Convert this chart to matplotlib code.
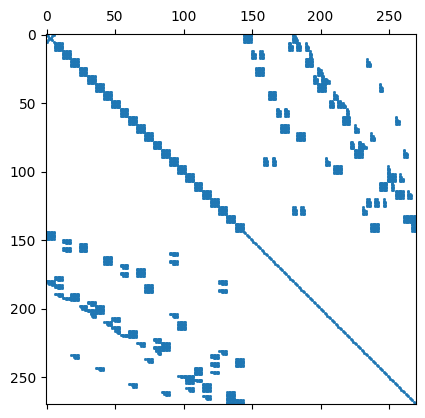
import numpy as np
import matplotlib
matplotlib.use("Agg")
import matplotlib.pyplot as plt

N = 270
DIAG_BLOCK = 6
N_DIAG_BLOCKS = 24
# share of the width that each of the 6 rows of an L block fills
L_PROFILE = [0.2, 0.3, 0.6, 0.7, 1.0, 1.0]

# upper right blocks, mirrored to the lower left
# F = full block, N = nearly full, L = thin on top with a wide bottom row
block_rows = [0, 0, 6, 6, 6, 12, 12, 12, 18, 18, 24, 24, 30, 30, 36, 36,
              42, 42, 48, 48, 54, 54, 54, 60, 60, 66, 66, 72, 72, 78, 78,
              84, 84, 90, 90, 90, 96, 96, 102, 102, 108, 108, 114, 114,
              120, 120, 120, 126, 126, 126, 132, 138, 138]
block_cols = [144, 180, 177, 183, 189, 150, 156, 192, 234, 189, 153, 198, 195, 201, 198, 243,
              162, 210, 207, 213, 168, 174, 219, 216, 255, 171, 225, 183, 237, 222, 228,
              225, 261, 159, 165, 204, 210, 249, 249, 258, 243, 252, 255, 264,
              234, 240, 246, 180, 186, 231, 261, 237, 267]
block_widths = [6, 4, 3, 3, 3, 3, 3, 2, 3, 6, 6, 4, 3, 6, 6, 3,
                6, 3, 3, 6, 3, 3, 2, 6, 3, 6, 3, 6, 3, 3, 6,
                6, 3, 3, 3, 3, 6, 2, 6, 3, 6, 2, 6, 3,
                3, 3, 2, 3, 3, 3, 9, 6, 3]
block_kinds = ["F", "L", "N", "N", "L", "N", "N", "N", "L", "F", "F", "L", "N", "L", "F", "L",
               "F", "L", "N", "L", "N", "N", "N", "F", "L", "F", "L", "F", "L", "N", "L",
               "F", "L", "N", "N", "L", "F", "N", "F", "L", "F", "N", "F", "L",
               "N", "N", "N", "N", "N", "L", "F", "F", "N"]

mat = np.zeros((N, N), dtype=bool)

for i in range(N_DIAG_BLOCKS):
    s = i * DIAG_BLOCK
    if i == 0:
        # first block only has the diagonals
        for k in range(DIAG_BLOCK):
            mat[s + k, s + k] = True
            mat[s + k, s + DIAG_BLOCK - 1 - k] = True
    else:
        mat[s:s + DIAG_BLOCK, s:s + DIAG_BLOCK] = True

for k in range(N_DIAG_BLOCKS * DIAG_BLOCK, N):
    mat[k, k] = True

for r, c, w, kind in zip(block_rows, block_cols, block_widths, block_kinds):
    for k in range(DIAG_BLOCK):
        if kind == "F":
            cells = w
        elif kind == "N":
            cells = w - 1 if k < 2 else w
        else:
            cells = int(np.ceil(w * L_PROFILE[k]))
        mat[r + k, c:c + cells] = True
mat = mat | mat.T

fig = plt.figure(figsize=(4.25, 4.18), dpi=100)
ax = fig.add_axes([46 / 425, 1 - 404 / 418, 369.8 / 425, 370 / 418])
ax.spy(mat, markersize=1, color="C0")
ax.set_xticks(np.arange(0, 251, 50))
ax.set_yticks(np.arange(0, 251, 50))
plt.savefig("out.png", dpi=100)
